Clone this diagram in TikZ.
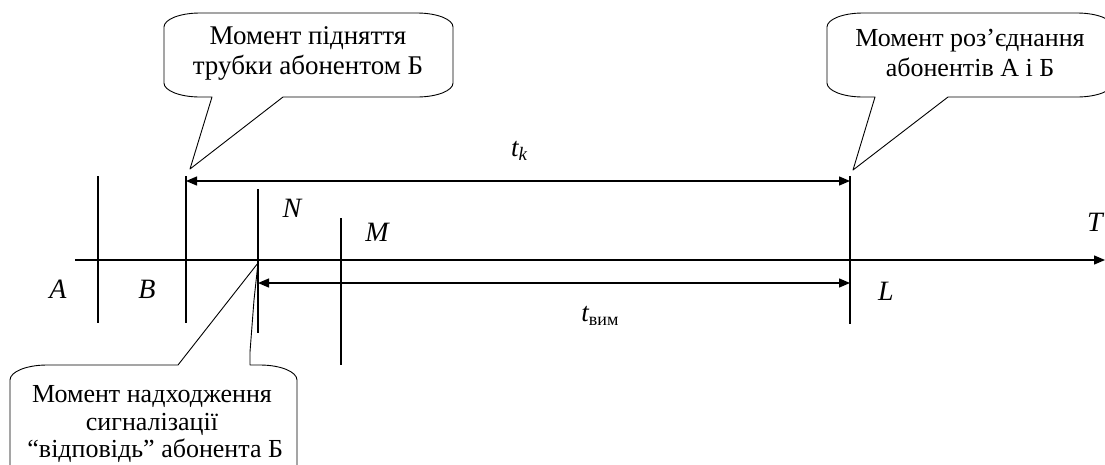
\documentclass[tikz,border=0pt]{standalone}
\usepackage{fontspec}
\setmainfont{Liberation Serif}
\usetikzlibrary{arrows.meta}

% speech bubble with its pointer on the lower edge:
% #1 left, #2 top, #3 right, #4 bottom, #5/#6 pointer base x, #7 pointer tip
% (arc radii are plain lengths, so angles are measured with the page's y axis)
\newcommand\bubbleptrbelow[7]{%
  \draw[bubble] (#7) -- (#6,#4) -- ({#3-36},#4)
    arc[start angle=-90,end angle=0,x radius=36pt,y radius=14pt] -- (#3,{#2+14})
    arc[start angle=0,end angle=90,x radius=36pt,y radius=14pt] -- ({#1+36},#2)
    arc[start angle=90,end angle=180,x radius=36pt,y radius=14pt] -- (#1,{#4-14})
    arc[start angle=180,end angle=270,x radius=36pt,y radius=14pt] -- (#5,#4) -- cycle;}

\begin{document}
\begin{tikzpicture}[x=1pt,y=-1pt,
  axisline/.style={line width=1.3pt},
  mark line/.style={line width=1.3pt},
  span/.style={line width=1.3pt,{Triangle[length=11pt,width=9pt]}-{Triangle[length=11pt,width=9pt]}},
  bubble/.style={line width=0.9pt,line join=round},
  bubbletext/.style={align=center,inner sep=0pt},
  lbl/.style={font=\fontsize{28}{28}\selectfont\itshape,inner sep=0pt}]

\useasboundingbox (0,0) rectangle (1105,464);
\clip (0,0) rectangle (1105,464);
\fill[white] (0,0) rectangle (1105,464);

% time axis
\coordinate (ax0) at (75,260);
\coordinate (ax1) at (1105,260);
\draw[axisline,-{Triangle[length=11pt,width=9pt]}] (ax0) -- (ax1);

% event marks on the axis
\coordinate (Atop) at (98,176);   \coordinate (Abot) at (98,323);
\coordinate (Btop) at (186,176);  \coordinate (Bbot) at (186,323);
\coordinate (Ntop) at (258,189);  \coordinate (Nbot) at (258,333);
\coordinate (Mtop) at (341,218);  \coordinate (Mbot) at (341,365);
\coordinate (Ltop) at (850,176);  \coordinate (Lbot) at (850,324);
\draw[mark line] (Atop) -- (Abot);
\draw[mark line] (Btop) -- (Bbot);
\draw[mark line] (Ntop) -- (Nbot);
\draw[mark line] (Mtop) -- (Mbot);
\draw[mark line] (Ltop) -- (Lbot);

% durations
\coordinate (tk0) at (186,181);  \coordinate (tk1) at (850,181);
\coordinate (tv0) at (258,283);  \coordinate (tv1) at (850,283);
\draw[span] (tk0) -- (tk1);
\draw[span] (tv0) -- (tv1);

% labels
\node[lbl] (lA) at (58,289) {A};
\node[lbl] (lB) at (147,289) {B};
\node[lbl] (lN) at (292,208) {N};
\node[lbl] (lM) at (377,232) {M};
\node[lbl] (lL) at (886,291) {L};
\node[lbl] (lT) at (1095,222) {T};
\node[inner sep=0pt] (ltk) at (519,151)
  {\fontsize{27}{27}\selectfont\itshape t\raisebox{-0.35ex}{\fontsize{19}{19}\selectfont k}};
\node[inner sep=0pt] (ltv) at (600,316)
  {\fontsize{27}{27}\selectfont\itshape t\raisebox{-0.3ex}{\fontsize{18}{18}\selectfont\upshape вим}};

% bubble: handset lifted by subscriber B
\coordinate (tip1) at (190,169);
\bubbleptrbelow{164}{13}{453}{97}{212}{283}{tip1}
\node[bubbletext,font=\fontsize{27}{30}\selectfont] (c1) at (308,53)
  {Момент підняття\\трубки абонентом Б};

% bubble: subscribers A and B disconnected
\coordinate (tip2) at (853,170);
\bubbleptrbelow{827}{13}{1113}{97}{875}{948}{tip2}
\node[bubbletext,font=\fontsize{26}{30}\selectfont] (c2) at (970,53)
  {Момент роз’єднання\\абонентів А і Б};

% bubble: "answer" signal from subscriber B (pointer on the upper edge)
\coordinate (tip3) at (258,263);
\draw[bubble] (tip3) -- (178,365) -- (47,365)
  arc[start angle=90,end angle=180,x radius=37pt,y radius=15pt] -- (10,475)
  arc[start angle=180,end angle=270,x radius=37pt,y radius=15pt] -- (260,490)
  arc[start angle=270,end angle=360,x radius=37pt,y radius=15pt] -- (297,380)
  arc[start angle=0,end angle=90,x radius=37pt,y radius=15pt] -- (250,365)
  -- (250,352) -- (254,300) -- cycle;
\node[bubbletext,font=\fontsize{26}{27.5}\selectfont] (c3) at (152,424)
  {Момент надходження\\сигналізації\\\ “відповідь” абонента Б};

\end{tikzpicture}
\end{document}
